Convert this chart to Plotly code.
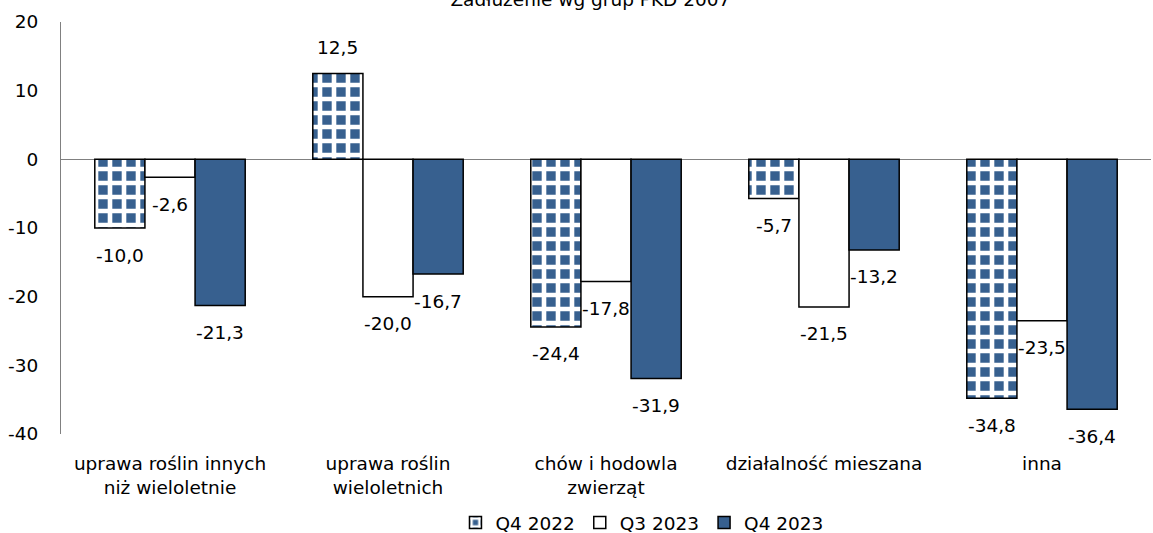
import plotly.graph_objects as go

categories = ["uprawa roślin innych<br>niż wieloletnie", "uprawa roślin<br>wieloletnich",
              "chów i hodowla<br>zwierząt", "działalność mieszana", "inna"]
series_names = ["Q4 2022", "Q3 2023", "Q4 2023"]
q4_2022 = [-10.0, 12.5, -24.4, -5.7, -34.8]
q3_2023 = [-2.6, -20.0, -17.8, -21.5, -23.5]
q4_2023 = [-21.3, -16.7, -31.9, -13.2, -36.4]
y_ticks = [20, 10, 0, -10, -20, -30, -40]
y_ticktext = ["20", "10", "0", "-10", "-20", "-30", "-40"]

blue = "#37608f"
font = "DejaVu Sans"
fsize = 18.5

fig = go.Figure()
fig.add_bar(x=categories, y=q4_2022, name=series_names[0],
            marker=dict(color=blue, line=dict(color="black", width=1.5),
                        pattern=dict(shape="+", fgcolor="white", bgcolor=blue, fgopacity=1,
                                     size=14, solidity=0.55)))
fig.add_bar(x=categories, y=q3_2023, name=series_names[1],
            marker=dict(color="white", line=dict(color="black", width=1.5)))
fig.add_bar(x=categories, y=q4_2023, name=series_names[2],
            marker=dict(color=blue, line=dict(color="black", width=1.5)))

# data labels, placed like the reference (a bit away from the bar end)
bar_px = 50.1
for k, vals in enumerate([q4_2022, q3_2023, q4_2023]):
    for cat, v in zip(categories, vals):
        fig.add_annotation(x=cat, y=v, text=f"{v:.1f}".replace(".", ","), showarrow=False,
                           xshift=(k - 1) * bar_px, yshift=26 if v > 0 else -27,
                           font=dict(size=fsize, color="black", family=font))

fig.update_layout(
    width=1153, height=533,
    margin=dict(l=61, r=2, t=22, b=99, autoexpand=False),
    paper_bgcolor="white", plot_bgcolor="white",
    font=dict(family=font, size=fsize, color="black"),
    barmode="group", bargap=0.31, bargroupgap=0,
    title=dict(text="Zadłużenie wg grup PKD 2007", x=0.512, xanchor="center",
               y=1.0, yanchor="middle", font=dict(size=fsize)),
    legend=dict(orientation="h", x=0.533, xanchor="center", y=-0.216, yanchor="middle",
                font=dict(size=fsize), itemwidth=30),
    xaxis=dict(showline=False, ticks="", ticklabelstandoff=16),
    yaxis=dict(range=[-40, 20], tickvals=y_ticks, ticktext=y_ticktext, showgrid=False,
               showline=True, linecolor="#808080", linewidth=1, ticks="", zeroline=True,
               zerolinecolor="#808080", zerolinewidth=1, ticklabelstandoff=18),
)

# page body has a default 8px margin; drop it so the chart sits at the window corner
fig.write_html("out.html", config={"displayModeBar": False},
               post_script="document.body.style.margin='0';")
